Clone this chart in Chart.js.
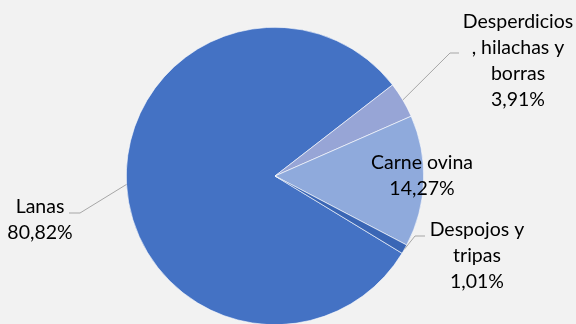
<!DOCTYPE html>
<html>
<head>
<meta charset="utf-8">
<script src="https://cdn.jsdelivr.net/npm/chart.js@4/dist/chart.umd.min.js"></script>
<style>
html,body{margin:0;padding:0;background:#F2F2F2;overflow:hidden;}
#wrap{width:576px;height:326px;}
</style>
</head>
<body>
<div id="wrap"><canvas id="c" width="576" height="326"></canvas></div>
<script>
const categories = ["Lanas", "Desperdicios, hilachas y borras", "Carne ovina", "Despojos y tripas"];
const values = [80.82, 3.91, 14.27, 1.01];
const valueLabels = ["80,82%", "3,91%", "14,27%", "1,01%"];
const labelLines = [["Lanas"], ["Desperdicios", ", hilachas y", "borras"], ["Carne ovina"], ["Despojos y", "tripas"]];
const colors = ["#4472C4", "#97A5D6", "#8FAADC", "#3A66B5"];

// label layout: text block center (x, first-line y), leader elbow (x,y) and end x; null = inside label without leader
const labelLayout = [
  {x: 40, y: 207, elbow: [80, 213], endX: 69},
  {x: 518, y: 22, elbow: [450, 53], endX: 459},
  {x: 422, y: 163, elbow: null},
  {x: 477, y: 230, elbow: [415, 236], endX: 425}
];
const LINE_H = 26;
const FONT = '19.5px Lato, "Open Sans", sans-serif';

const labelPlugin = {
  id: 'pieLabels',
  afterDatasetsDraw(chart) {
    const ctx = chart.ctx;
    const meta = chart.getDatasetMeta(0);
    ctx.save();
    meta.data.forEach((arc, i) => {
      const L = labelLayout[i];
      const mid = (arc.startAngle + arc.endAngle) / 2;
      if (L.elbow) {
        const ex = arc.x + Math.cos(mid) * arc.outerRadius;
        const ey = arc.y + Math.sin(mid) * arc.outerRadius;
        ctx.strokeStyle = '#A6A6A6';
        ctx.lineWidth = 1;
        ctx.beginPath();
        ctx.moveTo(ex, ey);
        ctx.lineTo(L.elbow[0], L.elbow[1]);
        ctx.lineTo(L.endX, L.elbow[1]);
        ctx.stroke();
      }
      ctx.fillStyle = '#000000';
      ctx.font = FONT;
      ctx.textAlign = 'center';
      ctx.textBaseline = 'middle';
      const lines = labelLines[i].concat([valueLabels[i]]);
      lines.forEach((t, k) => ctx.fillText(t, L.x, L.y + k * LINE_H));
    });
    ctx.restore();
  }
};

new Chart(document.getElementById('c'), {
  type: 'pie',
  data: {
    labels: categories,
    datasets: [{
      data: values,
      backgroundColor: colors,
      borderColor: '#FFFFFF',
      borderWidth: 0.6
    }]
  },
  options: {
    responsive: false,
    animation: false,
    rotation: 121.3,
    layout: {padding: {top: 27, bottom: 1, left: 126, right: 152}},
    plugins: {legend: {display: false}, tooltip: {enabled: false}}
  },
  plugins: [labelPlugin]
});
</script>
</body>
</html>
